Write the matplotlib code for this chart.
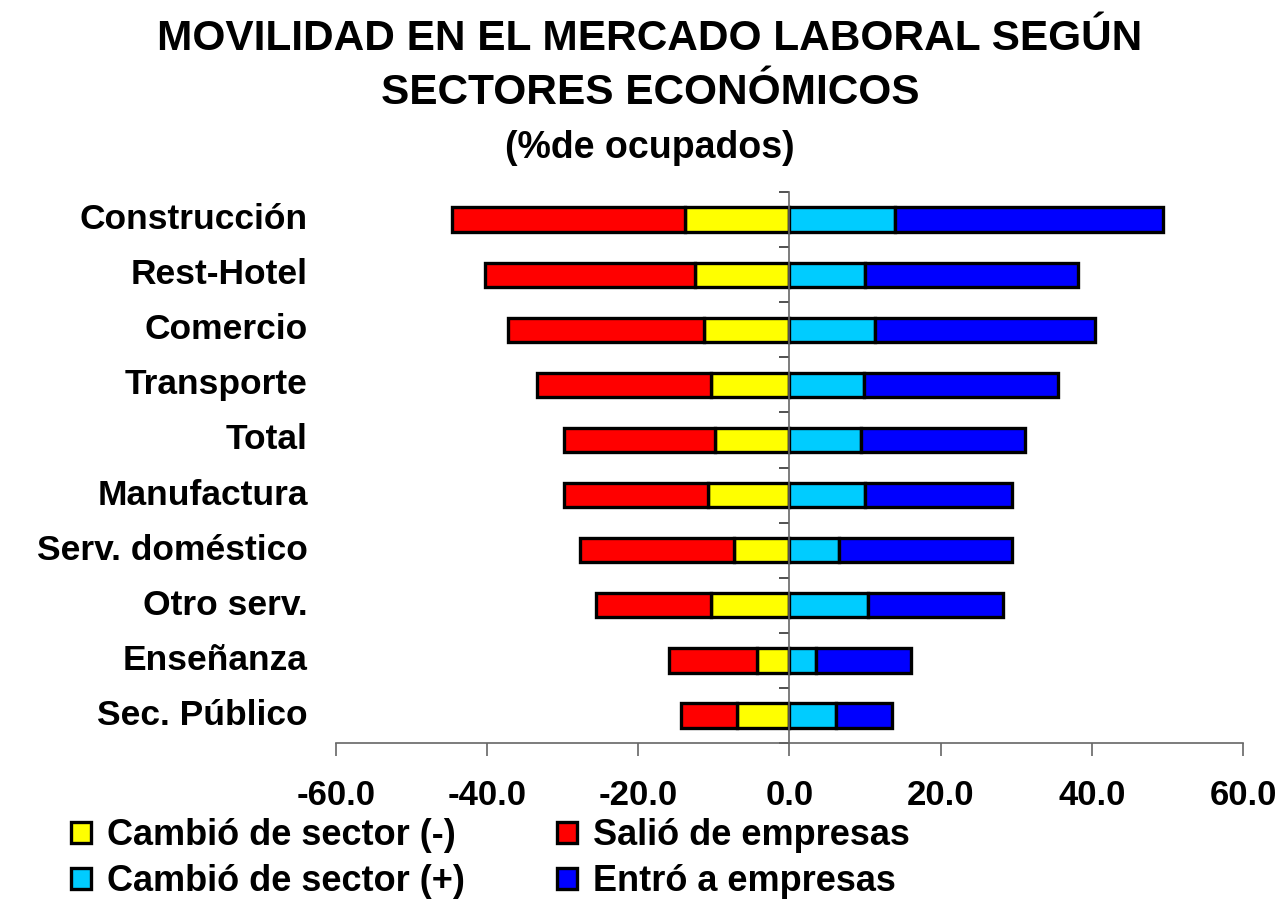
import matplotlib
matplotlib.use("Agg")
import matplotlib.pyplot as plt
import matplotlib.transforms as mtransforms
import numpy as np

plt.rcParams['font.family'] = ['Liberation Sans', 'DejaVu Sans']
plt.rcParams['font.weight'] = 'bold'

categories = ["Construcción", "Rest-Hotel", "Comercio", "Transporte", "Total",
              "Manufactura", "Serv. doméstico", "Otro serv.", "Enseñanza", "Sec. Público"]
cambio_neg = [13.8, 12.5, 11.3, 10.4, 9.9, 10.8, 7.3, 10.4, 4.3, 6.9]
salio = [30.9, 27.8, 26.0, 23.0, 20.0, 19.1, 20.4, 15.2, 11.7, 7.4]
cambio_pos = [13.9, 10.0, 11.3, 9.9, 9.5, 10.0, 6.5, 10.4, 3.5, 6.1]
entro = [35.5, 28.2, 29.1, 25.6, 21.7, 19.5, 23.0, 17.8, 12.6, 7.4]
xticks = [-60, -40, -20, 0, 20, 40, 60]

c_yel, c_red, c_cyan, c_blue = "#FFFF00", "#FF0000", "#00CCFF", "#0000FF"

fig = plt.figure(figsize=(12.83, 9.17), dpi=100)
ax = fig.add_axes([0.2619, 0.1897, 0.7069, 0.6009])

y = np.arange(len(categories))
yn = -np.array(cambio_neg)
rn = -np.array(salio)
cp = np.array(cambio_pos)
bp = np.array(entro)
h = 0.44
kw = dict(height=h, edgecolor="black", linewidth=2.4)
ax.barh(y, yn, color=c_yel, label="Cambió de sector (-)", **kw)
ax.barh(y, cp, color=c_cyan, label="Cambió de sector (+)", **kw)
ax.barh(y, rn, left=yn, color=c_red, label="Salió de empresas", **kw)
ax.barh(y, bp, left=cp, color=c_blue, label="Entró a empresas", **kw)

ax.set_xlim(-60, 60)
ax.set_ylim(len(categories) - 0.5, -0.5)
ax.set_xticks(xticks)
ax.set_xticklabels([f"{v:.1f}" for v in xticks], fontsize=25, fontweight='bold')
ax.set_yticks(np.arange(-0.5, len(categories), 1.0))
ax.set_yticklabels([])

for s in ["top", "right"]:
    ax.spines[s].set_visible(False)
ax.spines["left"].set_position(("data", 0))
for s in ["left", "bottom"]:
    ax.spines[s].set_color("#666666")
    ax.spines[s].set_linewidth(1.2)
ax.tick_params(axis="x", direction="out", length=9, width=1.2, color="#666666", pad=17)
ax.tick_params(axis="y", direction="out", length=7, width=1.2, color="#333333")

trans = mtransforms.blended_transform_factory(ax.transAxes, ax.transData)
for yi, name in zip(y, categories):
    ax.text(-0.031, yi, name, transform=trans, ha="right", va="center",
            fontsize=25.5, fontweight="bold")

fig.text(0.5066, 0.958, "MOVILIDAD EN EL MERCADO LABORAL SEGÚN", ha="center", va="center",
         fontsize=30.5, fontweight="bold")
fig.text(0.5066, 0.899, "SECTORES ECONÓMICOS", ha="center", va="center",
         fontsize=30.5, fontweight="bold")
fig.text(0.5066, 0.839, "(%de ocupados)", ha="center", va="center",
         fontsize=27, fontweight="bold")

handles, labels = ax.get_legend_handles_labels()
fig.legend(handles, labels, ncol=2, loc="upper left", bbox_to_anchor=(0.03, 0.143),
           frameon=False, handlelength=0.55, handleheight=0.55,
           handletextpad=0.45, columnspacing=2.55, labelspacing=0.3,
           prop={'weight': 'bold', 'size': 26})

fig.savefig("out.png", dpi=100)
